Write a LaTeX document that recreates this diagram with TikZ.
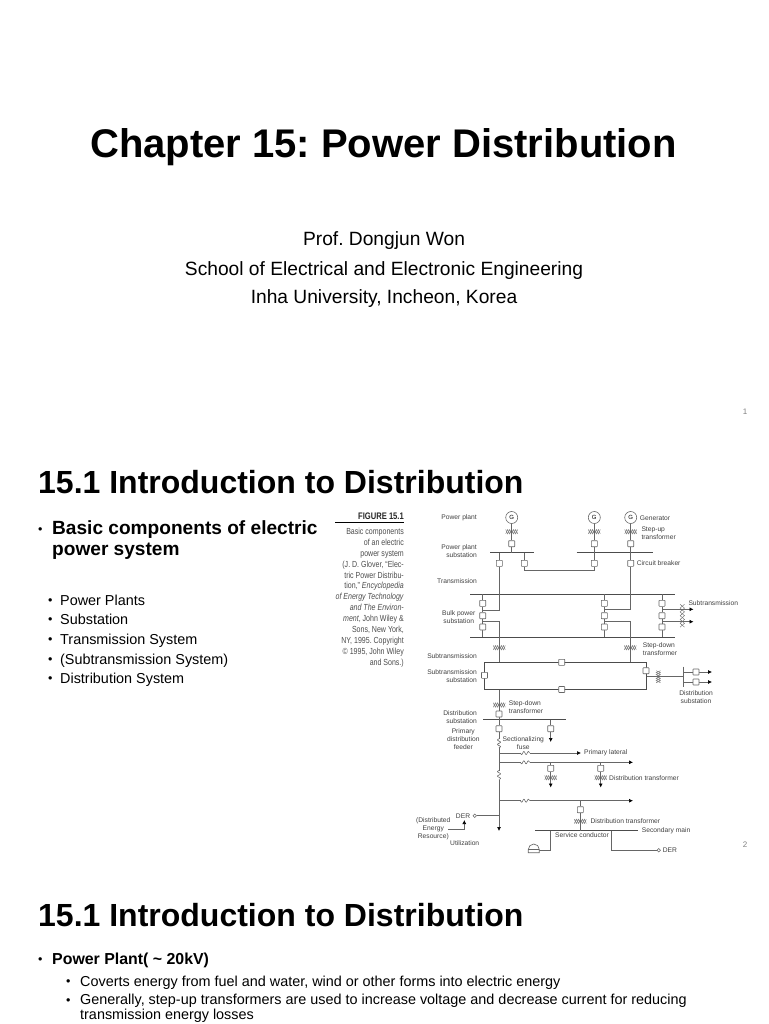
\documentclass[tikz,border=0pt]{standalone}
\usepackage{fontspec}
\setmainfont{Liberation Sans}
\newfontfamily\narrowfont[FakeStretch=0.8]{Liberation Sans}
\usetikzlibrary{positioning,arrows.meta,backgrounds}

\begin{document}
\frenchspacing
\begin{tikzpicture}[
	x=1pt,
	y=-1pt,
	wire/.style={draw=black!60, line width=.65pt},
	bus/.style={draw=black!70, line width=.8pt},
	arr/.style={wire, -{Latex[length=4pt,width=4pt,black]}},
	cb/.style={
		draw=black!60,
		fill=white,
		line width=.6pt,
		rounded corners=.5pt,
		minimum size=6pt,
		inner sep=0pt,
	},
	gen/.style={
		draw=black!60,
		circle,
		fill=white,
		line width=.6pt,
		minimum size=12pt,
		inner sep=0pt,
		font=\fontsize{6}{6}\selectfont,
	},
	der/.style={draw=black!60, circle, fill=white, line width=.5pt, minimum size=3.5pt, inner sep=0pt},
	lbl/.style={
		inner sep=0pt,
		align=center,
		text=black!75,
		font=\fontsize{6.7}{8}\selectfont,
	},
	title/.style={inner sep=0pt, anchor=base, font=\fontsize{40}{42}\selectfont\bfseries},
	subtitle/.style={inner sep=0pt, anchor=base, font=\fontsize{19.2}{20}\selectfont},
	heading/.style={inner sep=0pt, anchor=base west, font=\fontsize{32}{34}\selectfont\bfseries},
	bigitem/.style={inner sep=0pt, anchor=base west, font=\fontsize{19.1}{21}\selectfont\bfseries},
	item/.style={inner sep=0pt, anchor=base west, font=\fontsize{14.4}{15}\selectfont},
	boldtem/.style={item, font=\fontsize{15.9}{16}\selectfont\bfseries},
	dot/.style={inner sep=0pt, anchor=base west, font=\fontsize{12.5}{13}\selectfont},
	pageno/.style={inner sep=0pt, text=black!50, font=\fontsize{8}{8}\selectfont},
	pics/xfmr/.style={code={
		\draw[draw=black!60, line width=.4pt] plot[domain=-6:6, samples=7] (\x, {2.2*cos(\x*90)});
		\draw[draw=black!60, line width=.4pt] plot[domain=-6:6, samples=7] (\x, {-2.2*cos(\x*90)});
	}},
	pics/fuse/.style={code={
		\fill[white] (-4.5,-2) rectangle (4.5,2);
		\draw[draw=black!60, line width=.6pt] plot[domain=-4.5:4.5, samples=25] (\x, {1.5*sin(\x*80)});
	}},
]

% --- Slide 1 ---
\node[title] (chapter) at (383.5,158) {Chapter 15: Power Distribution};
\node[subtitle] (prof) at (384,245.5) {Prof. Dongjun Won};
\node[subtitle] (school) at (384,275) {School of Electrical and Electronic Engineering};
\node[subtitle] (inha) at (384,303.5) {Inha University, Incheon, Korea};
\node[pageno] (page1) at (745,412) {1};

% --- Slide 2: text ---
\node[heading] (intro1) at (38,493) {15.1 Introduction to Distribution};
\node[dot] (dotBasic) at (38,533.5) {•};
\node[bigitem, align=left, anchor=north west] (basic) at (52,520.5) {Basic components of electric\\power system};
\node[dot] (dot1) at (48,604) {•};
\node[item] (plants) at (60,605) {Power Plants};
\node[dot] (dot2) at (48,623.5) {•};
\node[item] (substation) at (60,624.5) {Substation};
\node[dot] (dot3) at (48,643.5) {•};
\node[item] (transmission) at (60,644.5) {Transmission System};
\node[dot] (dot4) at (48,663) {•};
\node[item] (subtransmission) at (60,664) {(Subtransmission System)};
\node[dot] (dot5) at (48,682) {•};
\node[item] (distribution) at (60,683) {Distribution System};
\node[pageno] (page2) at (745,845) {2};

% --- Slide 2: figure caption ---
\node[inner sep=0pt, anchor=east, text=black!85, font=\fontsize{9.5}{10}\narrowfont\bfseries] (figno) at (404,516) {FIGURE 15.1};
\draw[black, line width=.9pt] (335,522.7) coordinate (ruleL) -- (404,522.7) coordinate (ruleR);
\node[inner sep=0pt, anchor=east, align=right, text=black!70, font=\fontsize{8.8}{10.87}\narrowfont] (caption) at (404,597.5) {%
	Basic components\\
	of an electric\\
	power system\\
	(J. D. Glover, “Elec-\\
	tric Power Distribu-\\
	tion,” \textit{Encyclopedia}\\
	\textit{of Energy Technology}\\
	\textit{and The Environ-}\\
	\textit{ment}, John Wiley \&\\
	Sons, New York,\\
	NY, 1995. Copyright\\
	© 1995, John Wiley\\
	and Sons.)%
};

% --- Generators ---
\node[gen] (g1) at (511.7,517.5) {G};
\node[gen] (g2) at (594.3,517.5) {G};
\node[gen] (g3) at (630.7,517.5) {G};

% --- Breakers ---
\node[cb] (cbG1) at (511.7,543.7) {};
\node[cb] (cbG2) at (594.3,543.7) {};
\node[cb] (cbG3) at (630.7,543.7) {};
\node[cb] (cbOutA) at (499.3,563.3) {};
\node[cb] (cbOutB) at (524.3,563.3) {};
\node[cb] (cbOutC) at (594.3,563.3) {};
\node[cb] (cbOutD) at (630.7,563.3) {};
\node[cb] (cbLa) at (482.7,603.3) {};
\node[cb] (cbLb) at (482.7,615.7) {};
\node[cb] (cbLc) at (482.7,627) {};
\node[cb] (cbMa) at (604.3,603.3) {};
\node[cb] (cbMb) at (604.3,615.7) {};
\node[cb] (cbMc) at (604.3,627) {};
\node[cb] (cbRa) at (662,603.3) {};
\node[cb] (cbRb) at (662,615.7) {};
\node[cb] (cbRc) at (662,627) {};
\node[cb] (cbBoxL) at (484.5,675.3) {};
\node[cb] (cbBoxT) at (561.7,662.3) {};
\node[cb] (cbBoxB) at (561.7,689.5) {};
\node[cb] (cbBoxR) at (646,670.7) {};
\node[cb] (cbSubA) at (696,672) {};
\node[cb] (cbSubB) at (696,682) {};
\node[cb] (cbDistA) at (499,714) {};
\node[cb] (cbDistB) at (499,728.7) {};
\node[cb] (cbDistC) at (550.7,728.7) {};
\node[cb] (cbBranchA) at (550.7,768.3) {};
\node[cb] (cbBranchB) at (600.7,768.3) {};
\node[cb] (cbBranchC) at (580.3,809.7) {};

% --- Buses and corners ---
\coordinate (plantBusA) at (490,552.7);
\coordinate (plantBusB) at (534,552.7);
\coordinate (plantBusC) at (576.7,552.7);
\coordinate (plantBusD) at (652.7,552.7);
\coordinate (bulkTopL) at (470,594.3);
\coordinate (bulkTopR) at (675,594.3);
\coordinate (bulkBotL) at (470,637.3);
\coordinate (bulkBotR) at (675,637.3);
\coordinate (boxTL) at (484.7,662.3);
\coordinate (boxTR) at (646.7,662.3);
\coordinate (boxBL) at (484.7,689.5);
\coordinate (boxBR) at (646.7,689.5);
\coordinate (distBusL) at (483.3,719.7);
\coordinate (distBusR) at (566,719.7);
\coordinate (mainEnd) at (499,831);
\coordinate (secBusL) at (535,830.7);
\coordinate (secBusR) at (638.3,830.7);
\coordinate (subBusT) at (683.3,666.7);
\coordinate (subBusB) at (683.3,686.7);
\coordinate (houseEnd) at (539.3,850.3);
\node[der] (derL) at (474.7,815.7) {};
\node[der] (derR) at (658.7,850.3) {};

% --- Wires ---
\begin{scope}[on background layer]
	\draw[bus] (plantBusA) -- (plantBusB);
	\draw[bus] (plantBusC) -- (plantBusD);
	\draw[bus] (bulkTopL) -- (bulkTopR);
	\draw[bus] (bulkBotL) -- (bulkBotR);
	\draw[bus] (distBusL) -- (distBusR);
	\draw[bus] (secBusL) -- (secBusR);
	\draw[bus] (boxBL) -- (boxTL) -- (boxTR) -- (boxBR) -- cycle;
	\draw[wire] (subBusT) -- (subBusB);

	\draw[wire] (g1) -- (cbG1);
	\draw[wire] (g2) -- (cbG2);
	\draw[wire] (g3) -- (cbG3);
	\draw[wire] (cbG1) -- (cbG1 |- plantBusA);
	\draw[wire] (cbG2) -- (cbOutC);
	\draw[wire] (cbG3) -- (cbOutD);
	\draw[wire] (cbOutA |- plantBusA) -- (cbOutA);
	\draw[wire] (cbOutB |- plantBusA) -- (cbOutB);

	% spojky mezi stanicemi
	\draw[wire] (cbOutA) -- (cbOutA |- 0,610) -- (cbLa |- 0,610);
	\draw[wire] (cbOutB) |- (cbOutC |- 0,570) -- (cbOutC);
	\draw[wire] (cbOutD) -- (cbOutD |- 0,609.3) -- (cbMa |- 0,609.3);
	\draw[wire] (cbLa |- bulkTopL) -- (cbLa) -- (cbLb) -- (cbLc) -- (cbLc |- bulkBotL);
	\draw[wire] (cbMa |- bulkTopL) -- (cbMa) -- (cbMb) -- (cbMc) -- (cbMc |- bulkBotL);
	\draw[wire] (cbRa |- bulkTopL) -- (cbRa) -- (cbRb) -- (cbRc) -- (cbRc |- bulkBotL);
	\draw[wire] (cbLb |- 0,621.3) -- (499.3,621.3) -- (499.3,662.3);
	\draw[wire] (cbMb |- 0,621.5) -- (630,621.5) -- (630,662.3);
	\draw[arr] (cbRa |- 0,609.3) -- (693.5,609.3);
	\draw[arr] (cbRb |- 0,621.7) -- (693.5,621.7);

	\draw[wire] (646.7,676.7) -- (subBusT |- 0,676.7);
	\draw[wire] (subBusT |- cbSubA) -- (cbSubA);
	\draw[wire] (subBusT |- cbSubB) -- (cbSubB);
	\draw[arr] (cbSubA) -- (712,672);
	\draw[arr] (cbSubB) -- (712,682);

	% hlavni vedeni
	\draw[wire] (cbDistA |- boxBL) -- (cbDistA);
	\draw[wire] (cbDistA) -- (cbDistB);
	\draw[arr] (cbDistB) -- (mainEnd);
	\draw[wire] (cbDistC |- distBusL) -- (cbDistC);
	\draw[arr] (cbDistC) -- (550.7,742);
	\draw[arr] (499,753) -- (581,753);
	\draw[arr] (499,762.3) -- (633,762.3);
	\draw[arr] (499,800.7) -- (633,800.7);
	\draw[wire] (cbBranchA |- 0,762.3) -- (cbBranchA);
	\draw[wire] (cbBranchB |- 0,762.3) -- (cbBranchB);
	\draw[arr] (cbBranchA) -- (550.7,787.5);
	\draw[arr] (cbBranchB) -- (600.7,787.5);
	\draw[wire] (cbBranchC |- 0,800.7) -- (cbBranchC);
	\draw[wire] (cbBranchC) -- (cbBranchC |- secBusL);
	\draw[wire] (550.7,830.7) |- (houseEnd);
	\draw[wire] (611.7,830.7) |- (derR);
	\draw[wire] (derL) -- (mainEnd |- derL);
	\draw[arr] (448,829) -- (464.3,829) -- (464.3,820);
\end{scope}

% --- Symboly ---
\pic at (511.7,531.7) {xfmr};
\pic at (594.3,531.7) {xfmr};
\pic at (630.7,531.7) {xfmr};
\pic at (499.3,647.7) {xfmr};
\pic at (630.3,647.7) {xfmr};
\pic at (499.3,705) {xfmr};
\pic at (550.7,777.7) {xfmr};
\pic at (600.7,777.7) {xfmr};
\pic at (580.3,821.3) {xfmr};
\pic[rotate=90, xscale=1.9] at (682.3,615.7) {xfmr};
\pic[rotate=90] at (658.3,676.7) {xfmr};
\pic at (525,753) {fuse};
\pic at (525,762.3) {fuse};
\pic at (525,800.7) {fuse};
\pic[rotate=90] at (499,743.3) {fuse};
\pic[rotate=90] at (499,775) {fuse};
\draw[wire, fill=white] (528.3,852.7) -- (528.3,849.5) arc[start angle=180, end angle=360, radius=5.5] -- (539.3,852.7) -- cycle;
\draw[wire] (528.3,849.5) -- (539.3,849.5);

% --- Popisky ---
\node[lbl, anchor=east] (lPlant) at (477,518) {Power plant};
\node[lbl, anchor=east, align=right] (lPlantSub) at (477,551) {Power plant\\substation};
\node[lbl, anchor=east] (lTrans) at (477,580.7) {Transmission};
\node[lbl] (lBulk) at (458.7,616.7) {Bulk power\\substation};
\node[lbl, anchor=east] (lSubtrans) at (477,656) {Subtransmission};
\node[lbl, anchor=east, align=right] (lSubtransSub) at (477,676.3) {Subtransmission\\substation};
\node[lbl, anchor=west] (lGen) at (639.7,518.3) {Generator};
\node[lbl, anchor=west, align=left] (lStepUp) at (641.3,532.8) {Step-up\\transformer};
\node[lbl, anchor=west] (lBreaker) at (636.7,563.3) {Circuit breaker};
\node[lbl, anchor=west] (lSubtransR) at (688.3,603) {Subtransmission};
\node[lbl, anchor=west, align=left] (lStepDownA) at (642.7,649) {Step-down\\transformer};
\node[lbl] (lDistR) at (696,697.3) {Distribution\\substation};
\node[lbl, anchor=west, align=left] (lStepDownB) at (508.7,706.7) {Step-down\\transformer};
\node[lbl, anchor=east, align=right] (lDistL) at (477,717) {Distribution\\substation};
\node[lbl] (lFeeder) at (463.3,739) {Primary\\distribution\\feeder};
\node[lbl] (lFuse) at (523.3,742.7) {Sectionalizing\\fuse};
\node[lbl, anchor=west] (lLateral) at (584,753) {Primary lateral};
\node[lbl, anchor=west] (lDistTrA) at (609,777.7) {Distribution transformer};
\node[lbl, anchor=west] (lDistTrB) at (590.3,821) {Distribution transformer};
\node[lbl, anchor=west] (lSecMain) at (641.7,830.7) {Secondary main};
\node[lbl, anchor=west] (lService) at (555,835.3) {Service conductor};
\node[lbl, anchor=west] (lDerR) at (662.7,850) {DER};
\node[lbl, anchor=east] (lDerL) at (470.3,815.7) {DER};
\node[lbl] (lDerLong) at (433.3,829) {(Distributed\\Energy\\Resource)};
\node[lbl] (lUtil) at (464.7,843.3) {Utilization};

% --- Slide 3 ---
\node[heading] (intro2) at (38,926) {15.1 Introduction to Distribution};
\node[dot] (dotPlant) at (38,963.5) {•};
\node[boldtem] (powerPlant) at (52,964.5) {Power Plant( \textasciitilde{} 20kV)};
\node[dot] (dotCoverts) at (66,985) {•};
\node[item] (coverts) at (80,986) {Coverts energy from fuel and water, wind or other forms into electric energy};
\node[dot] (dotGenerally) at (66,1004.5) {•};
\node[item, align=left, anchor=north west] (generally) at (80,994) {Generally, step-up transformers are used to increase voltage and decrease current for reducing\\transmission energy losses};

\useasboundingbox (0,0) rectangle (768,1024);
\end{tikzpicture}
\end{document}
